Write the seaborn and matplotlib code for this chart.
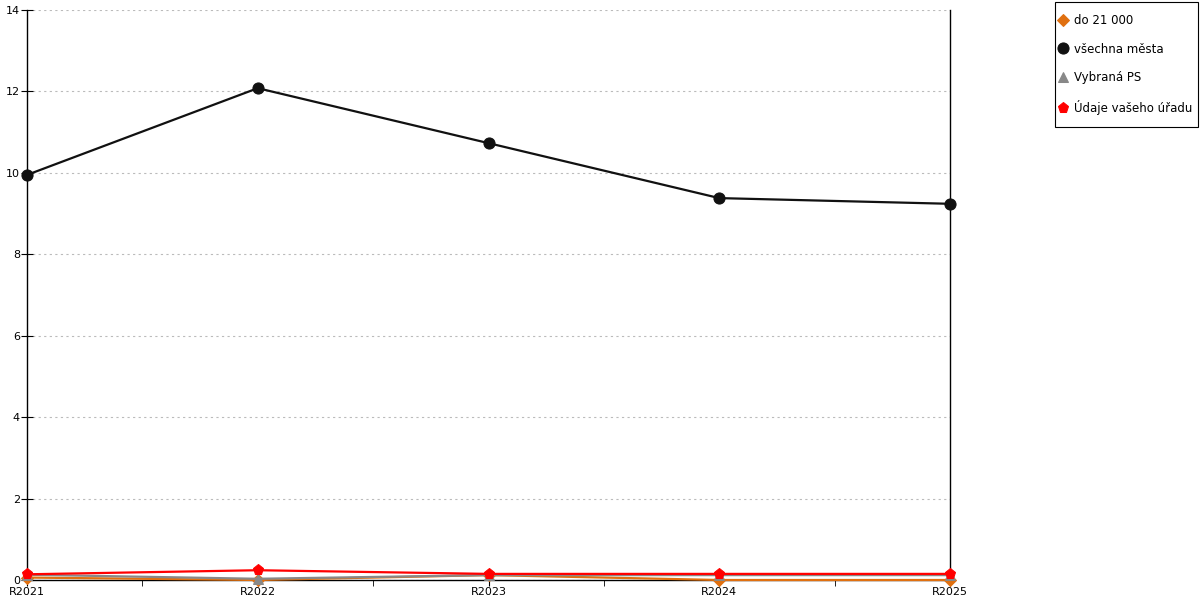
import pandas as pd
import seaborn as sns
import matplotlib.pyplot as plt
import matplotlib.patches as mpatches
import numpy as np

# Data
years = ['R2021', 'R2022', 'R2023', 'R2024', 'R2025']
do_21000 = [0.06, 0.0, 0.12, 0.0, 0.0]
vsechna_mesta = [9.95, 12.08, 10.73, 9.38, 9.24]
vybrana_ps = [0.13, 0.03, 0.12, 0.12, 0.12]
udaje_uradu = [0.14, 0.24, 0.15, 0.15, 0.15]

series = [
    ('do 21 000', do_21000, '#e07010', 'D', 6),
    ('všechna města', vsechna_mesta, '#111111', 'o', 8),
    ('Vybraná PS', vybrana_ps, '#888888', '^', 7),
    ('Údaje vašeho úřadu', udaje_uradu, '#ff0000', 'p', 8),
]

sns.set_style('white')
plt.rcParams['font.family'] = ['DejaVu Sans']

fig = plt.figure(figsize=(12, 6), dpi=100)
ax = fig.add_axes([27 / 1200, 20 / 600, 923 / 1200, 570 / 600])

for name, vals, color, marker, ms in series:
    df = pd.DataFrame({'rok': years, 'hodnota': vals})
    sns.lineplot(data=df, x='rok', y='hodnota', ax=ax, color=color, marker=marker,
                 markersize=ms, markeredgecolor=color, linewidth=1.6, label=name,
                 sort=False, clip_on=False, zorder=3)

ax.set_xlim(0, 4)
ax.set_ylim(0, 14)
ax.set_yticks(np.arange(0, 15, 2))
ax.set_xticks(range(len(years)))
ax.set_xticklabels(years)
ax.set_xticks([0.5, 1.5, 2.5, 3.5], minor=True)
ax.set_xlabel('')
ax.set_ylabel('')

ax.yaxis.grid(True, linestyle=(0, (2, 3)), color='#bbbbbb', linewidth=0.8)
ax.xaxis.grid(False)

ax.spines['top'].set_visible(False)
for side in ['left', 'bottom', 'right']:
    ax.spines[side].set_color('black')
    ax.spines[side].set_linewidth(1.0)

ax.tick_params(axis='y', which='major', direction='inout', length=8, labelsize=8,
               left=True, pad=1, labelcolor='black', color='black')
ax.tick_params(axis='x', which='major', direction='out', length=4, labelsize=8,
               bottom=True, pad=1, labelcolor='black', color='black')
ax.tick_params(axis='x', which='minor', direction='out', length=4, bottom=True, color='black')

# Legend without frame, box drawn separately
leg = ax.legend(loc='upper left', bbox_to_anchor=(1059 / 1200, 586 / 600),
                bbox_transform=fig.transFigure, frameon=False,
                fontsize=8.5, labelspacing=1.32, handlelength=0.75, handletextpad=0.55,
                borderpad=0, borderaxespad=0, markerscale=1.0)
for line in leg.get_lines():
    line.set_linestyle('')
for t in leg.get_texts():
    t.set_color('black')

box = mpatches.Rectangle((1055 / 1200, 473 / 600), 143 / 1200, 125 / 600,
                         transform=fig.transFigure, fill=False, edgecolor='black',
                         linewidth=0.8)
fig.patches.append(box)

fig.savefig('out.png', dpi=100)
